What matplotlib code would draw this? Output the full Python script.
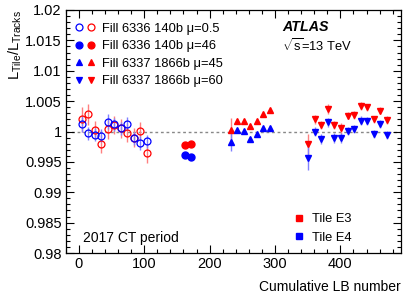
import matplotlib
matplotlib.use('Agg')
import matplotlib.pyplot as plt
from matplotlib.lines import Line2D
from matplotlib.legend_handler import HandlerTuple
from matplotlib.ticker import MultipleLocator

plt.rcParams['font.family'] = ['Liberation Sans', 'DejaVu Sans']
plt.rcParams['mathtext.fontset'] = 'custom'
plt.rcParams['mathtext.rm'] = 'Liberation Sans'
plt.rcParams['mathtext.it'] = 'Liberation Sans:italic'

# Fill 6336, 140b, mu=0.5 (open circles)
lb_a = [4, 14, 24, 34, 44, 54, 64, 74, 84, 94, 104]
e3_a = [1.0020, 1.0028, 1.0002, 0.9979, 1.0004, 1.0011, 1.0005, 0.9998, 0.9990, 1.0001, 0.9964]
e3_a_err = [0.0021, 0.0018, 0.0015, 0.0015, 0.0017, 0.0015, 0.0015, 0.0015, 0.0015, 0.0015, 0.0016]
e4_a = [1.0012, 0.9997, 0.9995, 0.9993, 1.0016, 1.0012, 1.0005, 1.0013, 0.9989, 0.9981, 0.9984]
e4_a_err = [0.0013, 0.0011, 0.0011, 0.0011, 0.0012, 0.0011, 0.0011, 0.0011, 0.0011, 0.0011, 0.0011]

# Fill 6336, 140b, mu=46 (filled circles)
lb_b = [162, 172]
e3_b = [0.9978, 0.9979]
e4_b = [0.9961, 0.9958]

# Fill 6337, 1866b, mu=45 (up triangles)
lb_c = [232, 242, 252, 262, 272, 282, 292]
e3_c = [1.0002, 1.0017, 1.0017, 1.0009, 1.0017, 1.0029, 1.0036]
e3_c_err = [0.0020, 0.0003, 0.0003, 0.0003, 0.0003, 0.0003, 0.0003]
e4_c = [0.9983, 1.0002, 1.0001, 0.9988, 0.9996, 1.0005, 1.0006]
e4_c_err = [0.0015, 0.0003, 0.0003, 0.0003, 0.0003, 0.0003, 0.0003]

# Fill 6337, 1866b, mu=60 (down triangles)
lb_d = [351, 361, 371, 381, 391, 401, 411, 421, 431, 441, 451, 461, 471]
e3_d = [0.9979, 1.0020, 1.0011, 1.0037, 1.0011, 1.0005, 1.0026, 1.0027, 1.0042, 1.0040, 1.0020, 1.0034, 1.0019]
e3_d_err = [0.0017, 0.0007, 0.0007, 0.0008, 0.0007, 0.0009, 0.0006, 0.0006, 0.0006, 0.0006, 0.0006, 0.0006, 0.0006]
e4_d = [0.9957, 1.0000, 0.9988, 1.0015, 0.9989, 0.9989, 1.0001, 1.0004, 1.0018, 1.0017, 0.9996, 1.0012, 0.9994]
e4_d_err = [0.0020, 0.0008, 0.0008, 0.0008, 0.0008, 0.0008, 0.0007, 0.0007, 0.0007, 0.0007, 0.0007, 0.0007, 0.0007]

yticks = [0.98, 0.985, 0.99, 0.995, 1.0, 1.005, 1.01, 1.015, 1.02]
ylabels = ['0.98', '0.985', '0.99', '0.995', '1', '1.005', '1.01', '1.015', '1.02']
xticks = [0, 100, 200, 300, 400]

RED = '#ff0000'
BLUE = '#0000ff'
RED_ERR = '#ff8080'
BLUE_ERR = '#8080ff'

fig = plt.figure(figsize=(4.14, 3.03), dpi=100)
ax = fig.add_axes([0.159, 0.165, 0.81, 0.802])

ax.axhline(1.0, color='#888888', ls=(0, (2, 2)), lw=1.0, zorder=1)

ms = 5
ax.errorbar(lb_a, e3_a, yerr=e3_a_err, fmt='o', mfc='none', mec=RED, ms=ms, mew=0.9,
            ecolor=RED_ERR, elinewidth=1, zorder=3)
ax.errorbar(lb_a, e4_a, yerr=e4_a_err, fmt='o', mfc='none', mec=BLUE, ms=ms, mew=0.9,
            ecolor=BLUE_ERR, elinewidth=1, zorder=3)
ax.plot(lb_b, e3_b, 'o', color=RED, ms=ms, zorder=3)
ax.plot(lb_b, e4_b, 'o', color=BLUE, ms=ms, zorder=3)
ax.errorbar(lb_c, e3_c, yerr=e3_c_err, fmt='^', color=RED, ms=ms, ecolor=RED_ERR, elinewidth=1, zorder=3)
ax.errorbar(lb_c, e4_c, yerr=e4_c_err, fmt='^', color=BLUE, ms=ms, ecolor=BLUE_ERR, elinewidth=1, zorder=3)
ax.errorbar(lb_d, e3_d, yerr=e3_d_err, fmt='v', color=RED, ms=ms, ecolor=RED_ERR, elinewidth=1, zorder=3)
ax.errorbar(lb_d, e4_d, yerr=e4_d_err, fmt='v', color=BLUE, ms=ms, ecolor=BLUE_ERR, elinewidth=1, zorder=3)

ax.set_xlim(-20, 493)
ax.set_ylim(0.98, 1.02)
ax.set_xticks(xticks)
ax.set_yticks(yticks)
ax.set_yticklabels(ylabels)
ax.xaxis.set_minor_locator(MultipleLocator(20))
ax.yaxis.set_minor_locator(MultipleLocator(0.001))
ax.tick_params(which='both', direction='in', top=True, right=True, labelsize=10.5, width=0.8)
ax.tick_params(which='major', length=6, pad=3)
ax.tick_params(which='minor', length=3)
for s in ax.spines.values():
    s.set_linewidth(0.9)

ax.set_ylabel(r'$\mathregular{L_{Tile}/L_{Tracks}}$', fontsize=10.5, loc='top', labelpad=1)
ax.set_xlabel('Cumulative LB number', fontsize=10, loc='right', labelpad=6)

def mk(m, c, filled=True):
    return Line2D([], [], ls='none', marker=m, ms=ms, mew=0.9,
                  mfc=c if filled else 'none', mec=c)

handles = [(mk('o', BLUE, False), mk('o', RED, False)),
           (mk('o', BLUE), mk('o', RED)),
           (mk('^', BLUE), mk('^', RED)),
           (mk('v', BLUE), mk('v', RED))]
labels = ['Fill 6336 140b \u03bc=0.5', 'Fill 6336 140b \u03bc=46',
          'Fill 6337 1866b \u03bc=45', 'Fill 6337 1866b \u03bc=60']
leg1 = ax.legend(handles, labels, handler_map={tuple: HandlerTuple(ndivide=None, pad=0.3)},
                 loc='upper left', bbox_to_anchor=(0.0, 0.985), frameon=False, fontsize=9.3,
                 handlelength=1.6, handletextpad=0.5, labelspacing=0.42, borderaxespad=0.3)
ax.add_artist(leg1)

sq = [Line2D([], [], ls='none', marker='s', ms=5, color=RED),
      Line2D([], [], ls='none', marker='s', ms=5, color=BLUE)]
ax.legend(sq, ['Tile E3', 'Tile E4'], loc='lower left', bbox_to_anchor=(0.642, -0.01),
          frameon=False, fontsize=9.3, handlelength=1.0, handletextpad=0.5, labelspacing=0.5)

ax.text(0.645, 0.93, 'ATLAS', transform=ax.transAxes, fontsize=10.3,
        fontweight='bold', fontstyle='italic', va='center')
ax.text(0.645, 0.855, r'$\sqrt{\mathregular{s}}$=13 TeV', transform=ax.transAxes,
        fontsize=9.3, va='center')
ax.text(0.05, 0.062, '2017 CT period', transform=ax.transAxes, fontsize=10, va='center')

fig.savefig('out.png', dpi=100)
